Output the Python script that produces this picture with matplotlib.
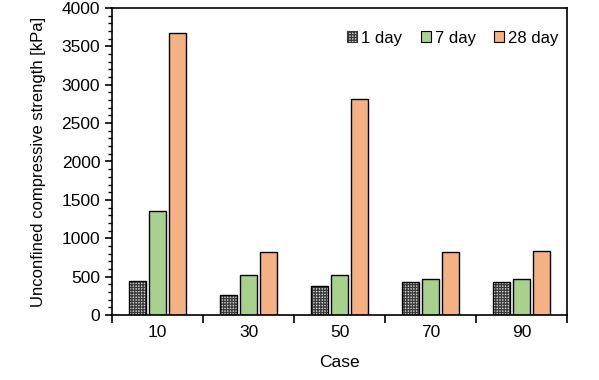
import matplotlib
matplotlib.use('Agg')
import matplotlib.pyplot as plt
import numpy as np
from matplotlib.ticker import MultipleLocator
from matplotlib.patches import Patch

plt.rcParams['font.family'] = ['Liberation Sans', 'DejaVu Sans']
plt.rcParams['hatch.linewidth'] = 0.9

cases = ['10', '30', '50', '70', '90']
day1 = [440, 256, 374, 426, 426]
day7 = [1350, 517, 517, 465, 465]
day28 = [3670, 817, 2810, 817, 830]

fig = plt.figure(figsize=(5.99, 3.8), dpi=100)
ax = fig.add_axes([0.187, 0.171, 0.7596, 0.808])

x = np.arange(len(cases))
w = 0.18
off = 0.22
# 1 day: checker pattern drawn first, outline on top
ax.bar(x - off, day1, w, facecolor='#d0d0d0', edgecolor='#3a3a3a', hatch='++++++', linewidth=0)
ax.bar(x - off, day1, w, facecolor='none', edgecolor='black', linewidth=1.0)
ax.bar(x, day7, w, facecolor='#a9d18e', edgecolor='black', linewidth=1.0)
ax.bar(x + off, day28, w, facecolor='#f4b183', edgecolor='black', linewidth=1.0)

ax.set_xlim(-0.5, len(cases) - 0.5)
ax.set_ylim(0, 4000)
ax.set_xticks(x)
ax.set_xticklabels(cases)
ax.tick_params(axis='x', which='major', length=0, pad=7, labelsize=12.5)
ax.set_xticks(np.arange(len(cases) + 1) - 0.5, minor=True)
ax.tick_params(axis='x', which='minor', length=6, width=1.2, direction='out')
ax.yaxis.set_major_locator(MultipleLocator(500))
ax.yaxis.set_minor_locator(MultipleLocator(100))
ax.tick_params(axis='y', which='major', length=5, width=1.2, direction='out', labelsize=12.5)
ax.tick_params(axis='y', which='minor', length=3, width=1.0, direction='out')
for s in ax.spines.values():
    s.set_linewidth(1.2)

ax.set_xlabel('Case', fontsize=12.5, labelpad=11)
ax.set_ylabel('Unconfined compressive strength [kPa]', fontsize=12, labelpad=11)

handles = [
    Patch(facecolor='#d0d0d0', edgecolor='#3a3a3a', hatch='++++++', linewidth=0.8, label='1 day'),
    Patch(facecolor='#a9d18e', edgecolor='black', linewidth=0.8, label='7 day'),
    Patch(facecolor='#f4b183', edgecolor='black', linewidth=0.8, label='28 day'),
]
ax.legend(handles=handles, loc='upper right', ncol=3, frameon=False, fontsize=12,
          handlelength=0.6, handleheight=0.6, handletextpad=0.25,
          columnspacing=1.1, bbox_to_anchor=(1.015, 0.975))

fig.savefig('out.png', dpi=100)
